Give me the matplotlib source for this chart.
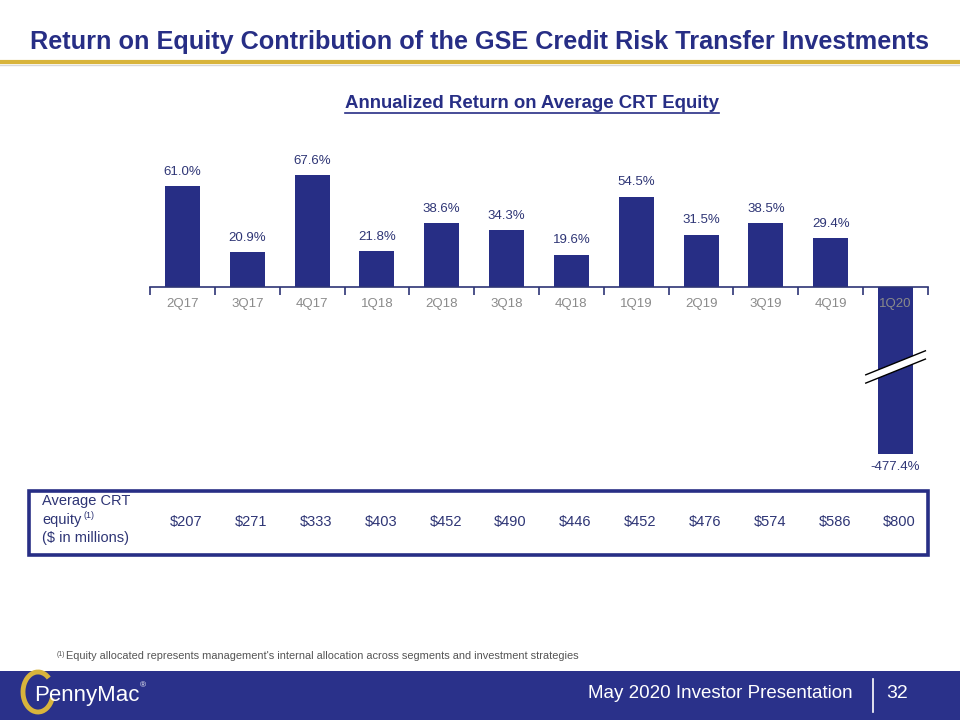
import matplotlib
matplotlib.use("Agg")
import matplotlib.pyplot as plt
from matplotlib.patches import Rectangle, Polygon, Arc
from matplotlib.lines import Line2D

plt.rcParams['font.family'] = ['Liberation Sans', 'DejaVu Sans']

# Data
quarters = ["2Q17", "3Q17", "4Q17", "1Q18", "2Q18", "3Q18", "4Q18", "1Q19", "2Q19", "3Q19", "4Q19", "1Q20"]
roe_pct = [61.0, 20.9, 67.6, 21.8, 38.6, 34.3, 19.6, 54.5, 31.5, 38.5, 29.4, -477.4]
avg_equity = [207, 271, 333, 403, 452, 490, 446, 452, 476, 574, 586, 800]

NAVY = "#272e85"
TEXT_NAVY = "#2e3575"
GOLD = "#d8b43c"
GRAY = "#8a8a8a"

W, H = 960, 720
fig = plt.figure(figsize=(9.6, 7.2), dpi=100)


def fx(x):
    return x / W


def fy(y):
    return 1 - y / H


# title + gold rule
fig.text(fx(479), fy(42), "Return on Equity Contribution of the GSE Credit Risk Transfer Investments",
         ha="center", va="center", fontsize=18.2, fontweight="bold", color=NAVY)
fig.add_artist(Line2D([0, 1], [fy(62), fy(62)], color=GOLD, lw=3))
fig.add_artist(Line2D([0, 1], [fy(64.5), fy(64.5)], color="#d8d8d8", lw=1))

# subtitle (underlined)
sub = fig.text(fx(532), fy(103), "Annualized Return on Average CRT Equity", ha="center", va="center",
               fontsize=13.4, fontweight="bold", color=NAVY)
fig.canvas.draw()
bb = sub.get_window_extent()
fig.add_artist(Line2D([bb.x0 / W, bb.x1 / W], [bb.y0 / H - 0.002, bb.y0 / H - 0.002], color=NAVY, lw=1.2))

# bar chart
ax = fig.add_axes([fx(150), fy(454), fx(928) - fx(150), fy(150) - fy(454)])
xs = list(range(len(quarters)))
ax.bar(xs, roe_pct, width=0.54, color=NAVY, zorder=1)
ax.set_xlim(-0.5, len(quarters) - 0.5)
ax.set_ylim(-100.8, 82.7)
for s in ["top", "right", "left"]:
    ax.spines[s].set_visible(False)
ax.spines["bottom"].set_position(("data", 0))
ax.spines["bottom"].set_color(TEXT_NAVY)
ax.spines["bottom"].set_linewidth(1.2)
ax.set_yticks([])
ax.set_xticks([i - 0.5 for i in range(len(quarters) + 1)])
ax.set_xticklabels([])
ax.tick_params(axis="x", which="major", length=6, direction="out", color=TEXT_NAVY, width=1.2)
ax.set_xticks(xs, minor=True)
ax.set_xticklabels(quarters, minor=True)
ax.tick_params(axis="x", which="minor", length=0, pad=8, labelsize=9.5, labelcolor=GRAY)

for x, v in zip(xs, roe_pct):
    if v >= 0:
        ax.annotate(f"{v:.1f}%", (x, v), xytext=(0, 6), textcoords="offset points",
                    ha="center", va="bottom", fontsize=9.5, color=TEXT_NAVY)
    else:
        ax.annotate(f"{v:.1f}%", (x, -100.8), xytext=(0, -5), textcoords="offset points",
                    ha="center", va="top", fontsize=9.5, color=TEXT_NAVY, annotation_clip=False)

# axis break on the last bar
bx = len(quarters) - 1
brk = Polygon([[bx - 0.46, -53], [bx + 0.46, -38.5], [bx + 0.46, -43.5], [bx - 0.46, -58]],
              closed=True, facecolor="white", edgecolor="none", zorder=3, clip_on=False)
ax.add_patch(brk)
ax.add_line(Line2D([bx - 0.46, bx + 0.46], [-53, -38.5], color="black", lw=1, zorder=4, clip_on=False))
ax.add_line(Line2D([bx - 0.46, bx + 0.46], [-58, -43.5], color="black", lw=1, zorder=4, clip_on=False))

# equity table
fig.add_artist(Rectangle((fx(29), fy(555)), fx(928) - fx(29), fy(491) - fy(555),
                         fill=False, edgecolor=NAVY, lw=2.6))
fig.text(fx(42), fy(501), "Average CRT", ha="left", va="center", fontsize=10.5, color=TEXT_NAVY)
fig.text(fx(42), fy(520), "equity", ha="left", va="center", fontsize=10.5, color=TEXT_NAVY)
fig.text(fx(83.5), fy(516), "(1)", ha="left", va="center", fontsize=6.5, color=TEXT_NAVY)
fig.text(fx(42), fy(538), "($ in millions)", ha="left", va="center", fontsize=10.5, color=TEXT_NAVY)
for x, v in zip(xs, avg_equity):
    px = ax.transData.transform((x, 0))[0]
    fig.text(px / W + 0.004, fy(522), f"${v}", ha="center", va="center", fontsize=10.5, color=TEXT_NAVY)

# footnote
fig.text(fx(57), fy(655), "(1)", ha="left", va="center", fontsize=5, color="#555555")
fig.text(fx(66), fy(656), "Equity allocated represents management's internal allocation across segments and investment strategies",
         ha="left", va="center", fontsize=7.9, color="#555555")

# footer band
fig.add_artist(Rectangle((0, 0), 1, fy(671), facecolor="#2a318a", edgecolor="none"))
fig.text(fx(853), fy(693), "May 2020 Investor Presentation", ha="right", va="center",
         fontsize=13.5, color="white")
fig.add_artist(Line2D([fx(873), fx(873)], [fy(679), fy(712)], color="white", lw=1.2))
fig.text(fx(897), fy(693), "32", ha="center", va="center", fontsize=14, color="white")

# logo
fig.add_artist(Arc((fx(38), fy(692)), fx(30), fy(672) - fy(712), theta1=60, theta2=330,
                   color=GOLD, lw=3.5))
fig.text(fx(34), fy(696), "PennyMac", ha="left", va="center", fontsize=16, color="white")
fig.text(fx(140), fy(686), "®", ha="left", va="center", fontsize=6, color="white")

fig.savefig("out.png", dpi=100)
